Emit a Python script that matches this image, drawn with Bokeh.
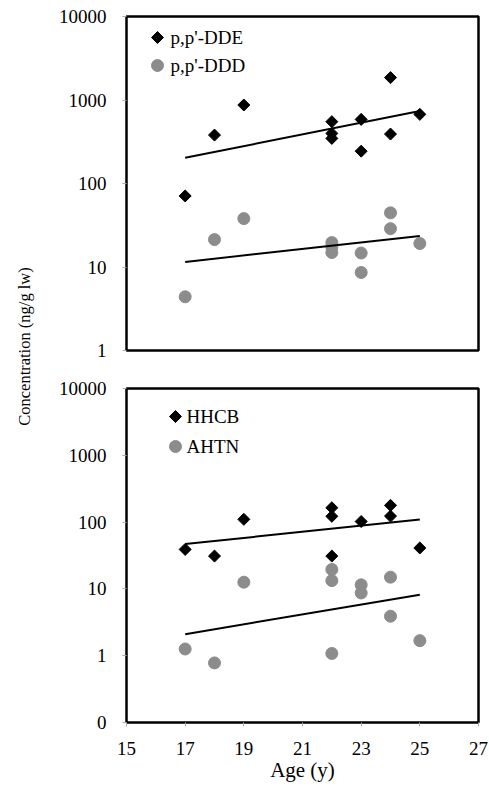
import math
from bokeh.plotting import figure
from bokeh.layouts import row, column
from bokeh.models import Range1d, LinearScale, FixedTicker
from bokeh.core.properties import value
from bokeh.embed import file_html
from bokeh.resources import INLINE

# ---------------- data ----------------
age_dde = [17, 18, 19, 22, 22, 22, 23, 23, 24, 24, 25]
dde = [71, 380, 871, 550, 398, 347, 586, 244, 1854, 391, 673]
age_ddd = [17, 18, 19, 22, 22, 22, 23, 23, 24, 24, 25]
ddd = [4.4, 21.3, 38, 19.6, 17.4, 14.9, 14.7, 8.6, 44.5, 28.8, 19.1]

age_hhcb = [17, 18, 19, 22, 22, 22, 23, 24, 24, 25]
hhcb = [39, 31, 110, 164, 122, 31, 102, 178, 123, 41]
age_ahtn = [17, 18, 19, 22, 22, 22, 23, 23, 24, 24, 25]
ahtn = [1.26, 0.78, 12.6, 19.5, 13.3, 1.08, 11.5, 8.7, 15, 3.9, 1.68]

trend_x = [17, 25]
dde_trend = [203, 740]
ddd_trend = [11.5, 23.5]
hhcb_trend = [47, 109]
ahtn_trend = [2.1, 8.2]

x_ticks = [15, 17, 19, 21, 23, 25, 27]
top_y_ticks = [1, 10, 100, 1000, 10000]
top_y_labels = ["1", "10", "100", "1000", "10000"]
bot_y_ticks = [0.1, 1, 10, 100, 1000, 10000]
bot_y_labels = ["0", "1", "10", "100", "1000", "10000"]

top_names = ["p,p'-DDE", "p,p'-DDD"]
bot_names = ["HHCB", "AHTN"]
x_title = "Age (y)"
y_title = "Concentration (ng/g lw)"

# ---------------- style ----------------
FONT = "Liberation Serif"
GRAY = "#8c8c8c"
FW, FH = 352, 334


def make_panel(y_start, y_ticks, y_labels, height, b_top, b_bottom, show_x):
    p = figure(width=447, height=height, x_range=Range1d(15, 27),
               y_range=Range1d(y_start, 10000), y_axis_type="log",
               output_backend="svg", toolbar_location=None,
               min_border_left=84, min_border_right=11,
               min_border_top=b_top, min_border_bottom=b_bottom)
    p.extra_x_ranges = {"px": Range1d(0, FW)}
    p.extra_y_ranges = {"px": Range1d(0, FH)}
    p.extra_x_scales = {"px": LinearScale()}
    p.extra_y_scales = {"px": LinearScale()}
    p.background_fill_color = "white"
    p.border_fill_color = "white"
    p.outline_line_color = "black"
    p.outline_line_width = 2.5
    p.xgrid.visible = False
    p.ygrid.visible = False
    for ax in (p.xaxis[0], p.yaxis[0]):
        ax.axis_line_color = None
        ax.major_tick_line_color = "#aaaaaa"
        ax.major_tick_in = 0
        ax.major_tick_out = 4
        ax.minor_tick_line_color = None
        ax.major_label_text_font = FONT
        ax.major_label_text_font_size = "19px"
        ax.major_label_text_color = "black"
    p.xaxis.ticker = FixedTicker(ticks=x_ticks)
    p.yaxis.ticker = FixedTicker(ticks=y_ticks)
    p.yaxis.major_label_overrides = {t: l for t, l in zip(y_ticks, y_labels)}
    p.yaxis.major_label_standoff = 16
    if show_x:
        p.xaxis.major_label_standoff = 15
        p.xaxis.axis_label = x_title
        p.xaxis.axis_label_standoff = 0
        p.xaxis.axis_label_text_font = FONT
        p.xaxis.axis_label_text_font_size = "21px"
        p.xaxis.axis_label_text_font_style = "normal"
        p.xaxis.axis_label_text_color = "black"
    else:
        p.xaxis.visible = False
    return p


def add_series(p, xa, ya, xb, yb, ta, tb):
    p.scatter(xb, yb, marker="circle", size=12, color=GRAY)
    p.scatter(xa, ya, marker="square", size=8.5, angle=math.pi / 4, color="black")
    p.line(trend_x, ta, line_color="black", line_width=2)
    p.line(trend_x, tb, line_color="black", line_width=2)


def add_legend(p, names, mx, my1, my2, tx):
    p.scatter([mx], [my1], marker="square", size=8.5, angle=math.pi / 4,
              color="black", x_range_name="px", y_range_name="px")
    p.scatter([mx], [my2], marker="circle", size=12, color=GRAY,
              x_range_name="px", y_range_name="px")
    p.text(x=[tx, tx], y=[my1, my2], text=names, x_range_name="px",
           y_range_name="px", text_font=value(FONT), text_font_size="19px",
           text_baseline="middle", text_align="left", text_color="black")


top = make_panel(1, top_y_ticks, top_y_labels, 369, 16, 19, False)
add_series(top, age_dde, dde, age_ddd, ddd, dde_trend, ddd_trend)
add_legend(top, top_names, 31, FH - 21, FH - 49, 44)

bot = make_panel(0.1, bot_y_ticks, bot_y_labels, 418, 19, 65, True)
add_series(bot, age_hhcb, hhcb, age_ahtn, ahtn, hhcb_trend, ahtn_trend)
add_legend(bot, bot_names, 49, FH - 28, FH - 58, 60)

lab = figure(width=42, height=787, x_range=Range1d(0, 42), y_range=Range1d(0, 787),
             output_backend="svg", toolbar_location=None,
             x_axis_location=None, y_axis_location=None, min_border=0)
lab.outline_line_color = None
lab.xgrid.visible = False
lab.ygrid.visible = False
lab.border_fill_color = "white"
lab.text(x=[24], y=[441], text=[y_title], angle=math.pi / 2,
         text_font=value(FONT), text_font_size="16.5px",
         text_align="center", text_baseline="middle", text_color="black")

layout = row(lab, column(top, bot))
open("out.html", "w").write(file_html(layout, INLINE))
